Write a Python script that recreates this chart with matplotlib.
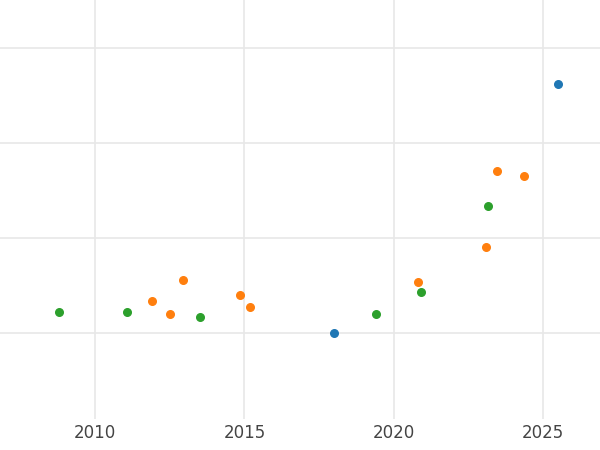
import matplotlib.pyplot as plt

blue_x = [2018.0, 2025.5]
blue_y = [0.0, 2.62]
orange_x = [2011.9, 2012.5, 2012.95, 2014.85, 2015.2, 2020.8, 2023.1, 2023.45, 2024.35]
orange_y = [0.34, 0.20, 0.56, 0.40, 0.27, 0.54, 0.91, 1.70, 1.65]
green_x = [2008.8, 2011.05, 2013.5, 2019.4, 2020.9, 2023.15]
green_y = [0.22, 0.22, 0.17, 0.20, 0.43, 1.34]

fig = plt.figure(figsize=(6, 4.5), dpi=100)
ax = fig.add_axes([0, 0.07, 1, 0.93])
ax.scatter(blue_x, blue_y, color="#1f77b4", s=30, zorder=3)
ax.scatter(orange_x, orange_y, color="#ff7f0e", s=30, zorder=3)
ax.scatter(green_x, green_y, color="#2ca02c", s=30, zorder=3)

ax.set_xlim(2006.81, 2026.91)
ax.set_ylim(-0.9, 3.505)
ax.set_xticks([2010, 2015, 2020, 2025])
ax.set_yticks([0, 1, 2, 3])
ax.set_yticklabels([])
ax.grid(True, color="#e8e8e8", linewidth=1.2)
ax.set_axisbelow(True)
for s in ax.spines.values():
    s.set_visible(False)
ax.tick_params(length=0, labelsize=12, labelcolor="#444444", pad=4)

fig.savefig("out.png")
